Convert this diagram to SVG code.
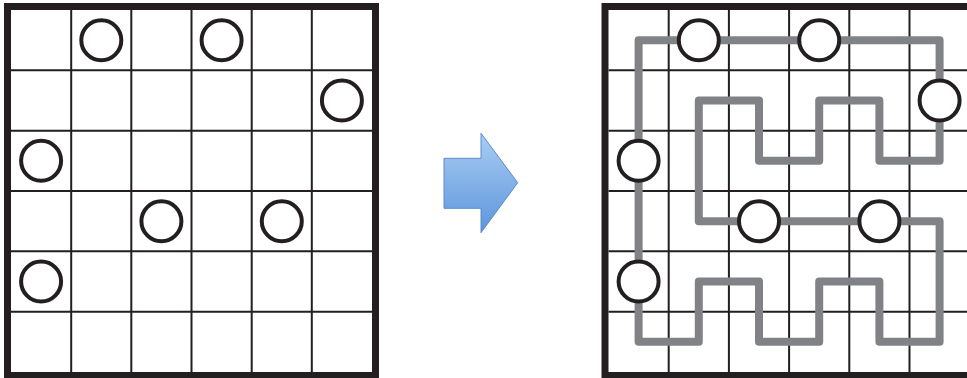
<svg xmlns="http://www.w3.org/2000/svg" width="967" height="378" viewBox="0 0 967 378">
<defs>
<style>
.grid{stroke:#231f20;stroke-width:2;fill:none}
.border{stroke:#231f20;stroke-width:7;fill:none}
.node{fill:#fff;stroke:#231f20;stroke-width:4}
.loop{fill:none;stroke:#808285;stroke-width:8;stroke-linejoin:round}
</style>
<linearGradient id="ag" x1="0" y1="0" x2="0" y2="1">
<stop offset="0" stop-color="#a9cdf3"/>
<stop offset="1" stop-color="#5d95dc"/>
</linearGradient>
</defs>
<rect width="967" height="378" fill="#fff"/>
<g id="left-grid">
<path class="grid" d="M71.2 10V372M131.3 10V372M191.5 10V372M251.7 10V372M311.8 10V372M11 70.3H372M11 130.7H372M11 191H372M11 251.3H372M11 311.7H372"/>
<rect class="border" x="7.5" y="6.5" width="368" height="369"/>
</g>
<g id="left-nodes">
<g id="L1"><circle class="node" cx="101.3" cy="40.2" r="20"/></g>
<g id="L2"><circle class="node" cx="221.6" cy="40.2" r="20"/></g>
<g id="L3"><circle class="node" cx="341.9" cy="100.5" r="20"/></g>
<g id="L4"><circle class="node" cx="41.1" cy="160.8" r="20"/></g>
<g id="L5"><circle class="node" cx="161.4" cy="221.2" r="20"/></g>
<g id="L6"><circle class="node" cx="281.8" cy="221.2" r="20"/></g>
<g id="L7"><circle class="node" cx="41.1" cy="281.5" r="20"/></g>
</g>
<g id="arrow">
<path d="M444 158.3H481V133.3L517.7 182.7L481 232.7V208.3H444Z" fill="url(#ag)" stroke="#5a8bcf" stroke-width="1"/>
</g>
<g id="right-grid">
<path class="grid" d="M668.7 10V372M728.9 10V372M789.1 10V372M849.3 10V372M909.5 10V372M608.5 70.3H967M608.5 130.7H967M608.5 191H967M608.5 251.3H967M608.5 311.7H967"/>
<rect class="border" x="605" y="6.5" width="368" height="369"/>
</g>
<g id="connectors">
<path class="loop" d="M638.6 40.2H939.6V160.8H879.4V100.5H819.2V160.8H759V100.5H698.8V221.2H939.6V341.8H879.4V281.5H819.2V341.8H759V281.5H698.8V341.8H638.6Z"/>
</g>
<g id="right-nodes">
<g id="R1"><circle class="node" cx="698.8" cy="40.2" r="20"/></g>
<g id="R2"><circle class="node" cx="819.2" cy="40.2" r="20"/></g>
<g id="R3"><circle class="node" cx="939.6" cy="100.5" r="20"/></g>
<g id="R4"><circle class="node" cx="638.6" cy="160.8" r="20"/></g>
<g id="R5"><circle class="node" cx="759" cy="221.2" r="20"/></g>
<g id="R6"><circle class="node" cx="879.4" cy="221.2" r="20"/></g>
<g id="R7"><circle class="node" cx="638.6" cy="281.5" r="20"/></g>
</g>
</svg>
